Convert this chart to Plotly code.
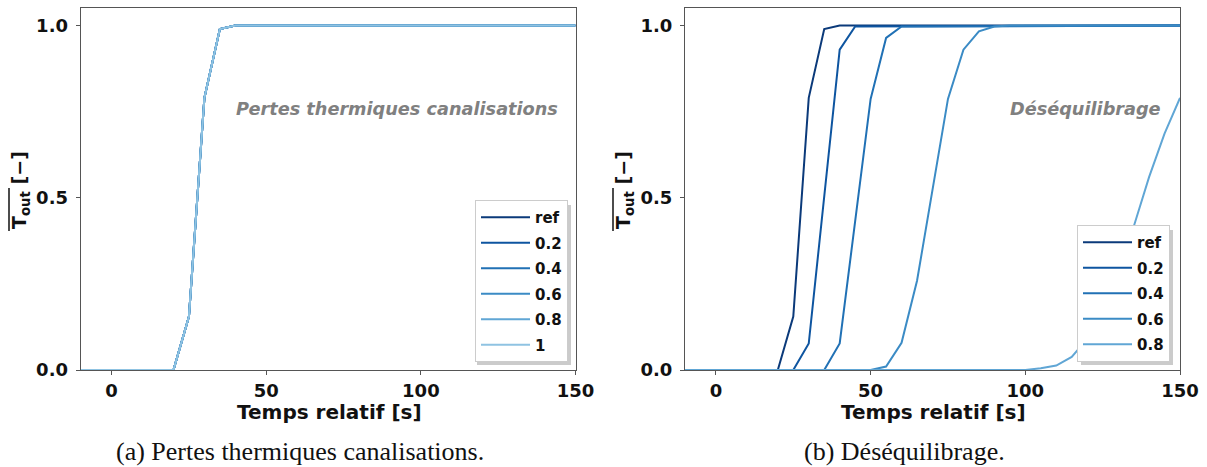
import plotly.graph_objects as go

# ---------------- data ----------------
names_a = ["ref", "0.2", "0.4", "0.6", "0.8", "1"]
names_b = ["ref", "0.2", "0.4", "0.6", "0.8"]
colors = ["#0b3a7a", "#0e55a0", "#2171b5", "#3b8bc5", "#60a6d5", "#8fc3e2"]

# (a) Pertes thermiques canalisations: all cases overlap
a_t = [-10, 20, 25, 30, 35, 40, 150]
a_ref = [0.0, 0.0, 0.155, 0.79, 0.99, 1.0, 1.0]
a_02 = [0.0, 0.0, 0.155, 0.79, 0.99, 1.0, 1.0]
a_04 = [0.0, 0.0, 0.155, 0.79, 0.99, 1.0, 1.0]
a_06 = [0.0, 0.0, 0.155, 0.79, 0.99, 1.0, 1.0]
a_08 = [0.0, 0.0, 0.155, 0.79, 0.99, 1.0, 1.0]
a_1 = [0.0, 0.0, 0.155, 0.79, 0.99, 1.0, 1.0]

# (b) Déséquilibrage
b_ref_t = [-10, 20, 25, 30, 35, 40, 150]
b_ref = [0.0, 0.0, 0.155, 0.79, 0.99, 1.0, 1.0]
b_02_t = [-10, 25, 30, 35, 40, 45, 150]
b_02 = [0.0, 0.0, 0.077, 0.50, 0.93, 0.997, 1.0]
b_04_t = [-10, 35, 40, 45, 50, 55, 60, 150]
b_04 = [0.0, 0.0, 0.077, 0.43, 0.787, 0.964, 0.997, 1.0]
b_06_t = [-10, 50, 55, 60, 65, 70, 75, 80, 85, 90, 95, 150]
b_06 = [0.0, 0.0, 0.01, 0.079, 0.259, 0.526, 0.787, 0.93, 0.983, 0.997, 1.0, 1.0]
b_08_t = [-10, 100, 105, 110, 115, 120, 125, 130, 135, 140, 145, 150]
b_08 = [0.0, 0.0, 0.005, 0.013, 0.038, 0.09, 0.17, 0.28, 0.415, 0.56, 0.686, 0.79]

x_ticks = [0, 50, 100, 150]
y_ticks = [0.0, 0.5, 1.0]

# ---------------- figure ----------------
W, H = 1207, 467
fig = go.Figure()

series_a = [(a_t, a_ref), (a_t, a_02), (a_t, a_04), (a_t, a_06), (a_t, a_08), (a_t, a_1)]
for i, (t, y) in enumerate(series_a):
    fig.add_trace(go.Scatter(x=t, y=y, mode="lines", name=names_a[i],
                             line=dict(color=colors[i], width=2),
                             xaxis="x", yaxis="y", legend="legend",
                             legendgroup="a%d" % i))

series_b = [(b_ref_t, b_ref), (b_02_t, b_02), (b_04_t, b_04), (b_06_t, b_06), (b_08_t, b_08)]
for i, (t, y) in enumerate(series_b):
    fig.add_trace(go.Scatter(x=t, y=y, mode="lines", name=names_b[i],
                             line=dict(color=colors[i], width=2),
                             xaxis="x2", yaxis="y2", legend="legend2",
                             legendgroup="b%d" % i))

def px(x):
    return x / W

def py(y):
    return 1 - y / H

tickfont = dict(family="DejaVu Sans", size=18, color="#111111", weight="bold")
axis_common = dict(showline=True, mirror=True, linecolor="#555555", linewidth=1.2,
                   ticks="outside", ticklen=4, tickcolor="#555555", showgrid=False,
                   zeroline=False, automargin=False, tickfont=tickfont)

legend_common = dict(xanchor="right", yanchor="bottom", y=py(362),
                     bgcolor="white", bordercolor="#cccccc", borderwidth=1,
                     tracegroupgap=3, itemwidth=49,
                     font=dict(family="DejaVu Sans", size=15, color="#111111", weight="bold"))

fig.update_layout(
    width=W, height=H,
    margin=dict(l=0, r=0, t=0, b=0, pad=0, autoexpand=False),
    paper_bgcolor="white", plot_bgcolor="white",
    font=dict(family="DejaVu Sans", color="#111111"),
    xaxis=dict(domain=[px(80.7), px(575.5)], range=[-10, 150], tickvals=x_ticks,
               anchor="y", **axis_common),
    yaxis=dict(domain=[py(370), py(8.3)], range=[0, 1.05], tickvals=y_ticks,
               tickformat=".1f", anchor="x", ticklabelstandoff=4, **axis_common),
    xaxis2=dict(domain=[px(685), px(1180)], range=[-10, 150], tickvals=x_ticks,
                anchor="y2", **axis_common),
    yaxis2=dict(domain=[py(370), py(8.3)], range=[0, 1.05], tickvals=y_ticks,
                tickformat=".1f", anchor="x2", ticklabelstandoff=4, **axis_common),
    legend=dict(x=px(568), **legend_common),
    legend2=dict(x=px(1170), **legend_common),
    showlegend=True,
)

ann = []
label_font = dict(family="DejaVu Sans", size=17.7, color="#808080", weight="bold",
                  style="italic")
ann.append(dict(text="Pertes thermiques canalisations", xref="paper", yref="paper",
                x=px(560), y=py(109), xanchor="right", yanchor="middle", showarrow=False,
                font=label_font))
ann.append(dict(text="Déséquilibrage", xref="paper", yref="paper",
                x=px(1163), y=py(109), xanchor="right", yanchor="middle", showarrow=False,
                font=label_font))
# axis titles
title_font = dict(family="DejaVu Sans", size=20, color="#111111", weight="bold")
for cx, cyl in [(329, 21), (933, 625)]:
    ann.append(dict(text="Temps relatif [s]", xref="paper", yref="paper",
                    x=px(cx), y=py(412), xanchor="center", yanchor="middle", showarrow=False,
                    font=title_font))
    ann.append(dict(text="T<sub>out</sub> [−]", xref="paper", yref="paper",
                    x=px(cyl), y=py(190), xanchor="center", yanchor="middle", showarrow=False,
                    textangle=-90,
                    font=dict(family="DejaVu Sans", size=19, color="#111111", weight="bold")))
# captions
cap_font = dict(family="Liberation Serif", size=26, color="#111111")
ann.append(dict(text="(a) Pertes thermiques canalisations.", xref="paper", yref="paper",
                x=px(300), y=py(451), xanchor="center", yanchor="middle", showarrow=False,
                font=cap_font))
ann.append(dict(text="(b) Déséquilibrage.", xref="paper", yref="paper",
                x=px(904.5), y=py(451), xanchor="center", yanchor="middle", showarrow=False,
                font=cap_font))
fig.update_layout(annotations=ann)

shapes = []
# overline on the y titles
for ox in [9.0, 613.0]:
    shapes.append(dict(type="line", xref="paper", yref="paper",
                       x0=px(ox), x1=px(ox), y0=py(231), y1=py(188),
                       line=dict(color="#111111", width=1.5)))
# legend shadows
for lx0, lx1, ly0 in [(477, 571, 205), (1081, 1173, 230)]:
    shapes.append(dict(type="rect", xref="paper", yref="paper",
                       x0=px(lx0), x1=px(lx1), y0=py(365), y1=py(ly0),
                       line=dict(width=0), fillcolor="rgba(140,140,140,0.45)",
                       layer="above"))
fig.update_layout(shapes=shapes)

fig.write_html("out.html",
               config={"displayModeBar": False},
               post_script="document.body.style.margin='0';document.body.style.padding='0';")
